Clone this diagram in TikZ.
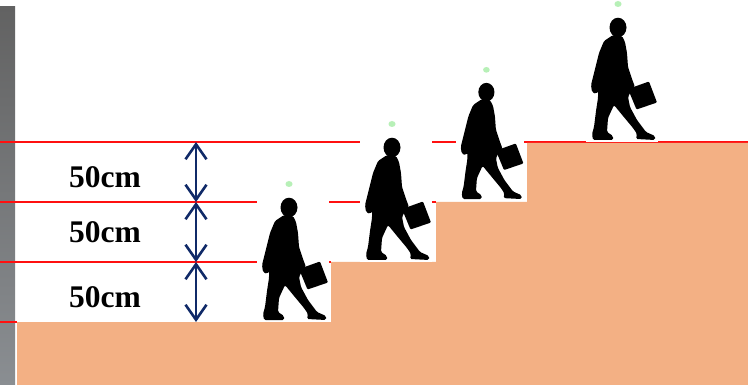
\documentclass[tikz,border=0pt]{standalone}
\usepackage{fontspec}
\setmainfont{Liberation Serif}
\usetikzlibrary{arrows.meta}
\definecolor{stairorange}{HTML}{F3B084}
\definecolor{levelred}{HTML}{FF1010}
\definecolor{dimnavy}{HTML}{102A68}
\definecolor{wallgraytop}{HTML}{626262}
\definecolor{wallgraybot}{HTML}{8A8E92}
\definecolor{dotgreen}{HTML}{A6EDA6}
\tikzset{
  levelline/.style={draw=levelred, line width=1.6pt},
  stair/.style={fill=stairorange},
  dimarrow/.style={draw=dimnavy, line width=2.6pt,
    {Straight Barb[length=15pt,width=21pt,line width=2.6pt]}-{Straight Barb[length=15pt,width=21pt,line width=2.6pt]}},
  heightlabel/.style={font=\bfseries\fontsize{31.5pt}{32pt}\selectfont, inner sep=0pt, anchor=base west},
  walker/.pic={
    % white backdrop of the clip-art
    \fill[white] (0,0) rectangle (72,141);
    \fill[dotgreen, opacity=0.8] (32,3) ellipse (3.5 and 3);
    % head
    \fill[black] (32,26.5) ellipse (8.5 and 9.8);
    % body and legs
    \fill[black, rounded corners=1.5pt]
      (27,34) -- (18,40) -- (13,52) -- (9,68) -- (5,84) -- (6,91) -- (10,93)
      -- (12,90) -- (12,97) -- (10,110) -- (8,126) -- (6,133) -- (7,139)
      -- (27,139) -- (27,135) -- (21,131) -- (22,117) -- (28,104)
      -- (37,115) -- (47,127) -- (51,133) -- (50,138) -- (69,139) -- (69,135)
      -- (60,131) -- (51,119) -- (44,106) -- (42,96) -- (45,90) -- (49,86)
      -- (46,78) -- (42,66) -- (41,52) -- (39,41) -- (36,35) -- cycle;
    % briefcase
    \fill[black, rounded corners=1pt] (42,88) -- (63,80.5) -- (71,101.5) -- (50.5,108.5) -- cycle;
  }
}
\begin{document}
\begin{tikzpicture}[x=1pt,y=-1pt]
\useasboundingbox (0,0) rectangle (748,385);
\fill[white] (0,0) rectangle (748,385);

% grey wall on the left
\shade[top color=wallgraytop, bottom color=wallgraybot] (0,7) rectangle (15,385);

% level lines, 50 cm apart
\coordinate (l1w) at (0,142);   \coordinate (l1e) at (748,142);
\coordinate (l2w) at (0,202);   \coordinate (l2e) at (436,202);
\coordinate (l3w) at (0,262);   \coordinate (l3e) at (331,262);
\coordinate (l4w) at (0,322);   \coordinate (l4e) at (17,322);
\draw[levelline] (l1w) -- (l1e);
\draw[levelline] (l2w) -- (l2e);
\draw[levelline] (l3w) -- (l3e);
\draw[levelline] (l4w) -- (l4e);

% the stairs
\fill[stair] (17,385) -- (17,322) -- (331,322) -- (331,262) -- (436,262)
  -- (436,202) -- (527,202) -- (527,143) -- (748,143) -- (748,385) -- cycle;

% walking figures, one per step
\pic at (257,181) {walker};
\pic at (360,121) {walker};
\pic[scale=0.95] at (456,67) {walker};
\pic at (586,1) {walker};

% dimension arrows
\coordinate (a1) at (196,142);
\coordinate (a2) at (196,202);
\coordinate (a3) at (196,262);
\coordinate (a4) at (196,322);
\draw[dimarrow] (a1) -- (a2);
\draw[dimarrow] (a2) -- (a3);
\draw[dimarrow] (a3) -- (a4);

% height labels
\node[heightlabel] (t1) at (69,188) {50cm};
\node[heightlabel] (t2) at (69,243) {50cm};
\node[heightlabel] (t3) at (69,308) {50cm};
\end{tikzpicture}
\end{document}
